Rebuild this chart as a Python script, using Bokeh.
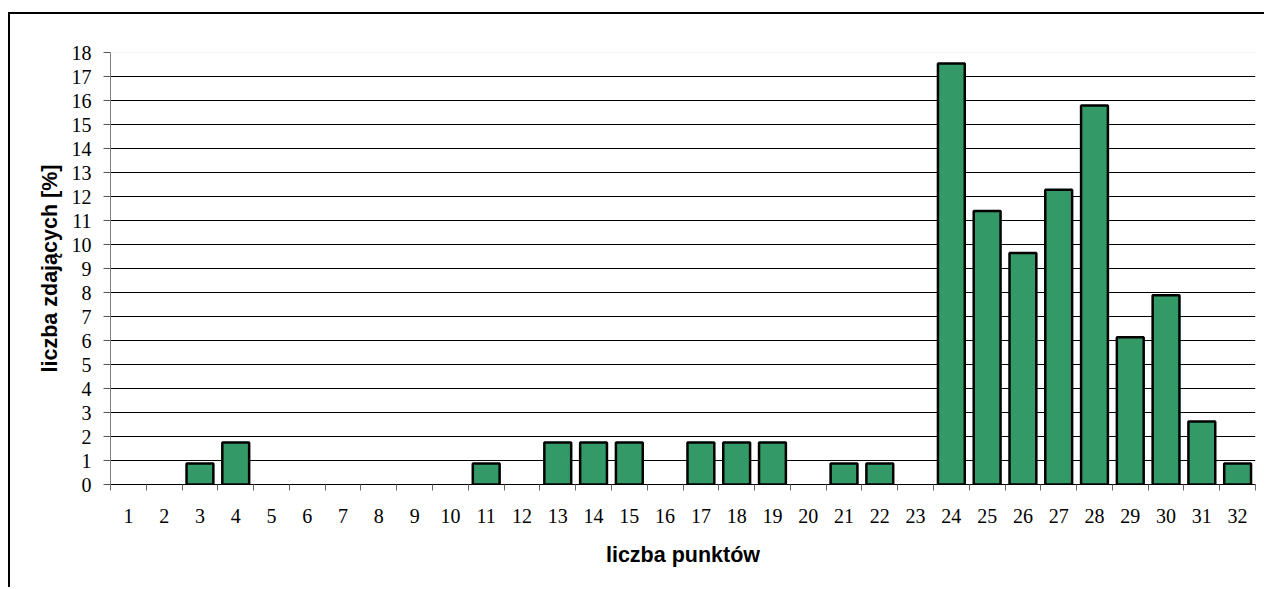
from bokeh.plotting import figure
from bokeh.models import FixedTicker, Span, ColumnDataSource
from bokeh.embed import file_html
from bokeh.resources import INLINE

# data
points = list(range(1, 33))
percent = [0, 0, 0.88, 1.75, 0, 0, 0, 0, 0, 0, 0.88, 0, 1.75, 1.75, 1.75, 0,
           1.75, 1.75, 1.75, 0, 0.88, 0.88, 0, 17.54, 11.40, 9.65, 12.28, 15.79,
           6.14, 7.89, 2.63, 0.88]
y_ticks = list(range(0, 19))
x_label = "liczba punktów"
y_label = "liczba zdających [%]"

# only non-empty bars are drawn (empty categories show nothing)
src = ColumnDataSource(data=dict(
    x=[x for x, v in zip(points, percent) if v > 0],
    top=[v for v in percent if v > 0],
))

p = figure(width=1256, height=575, x_range=(0.5, 32.5), y_range=(0, 18),
           output_backend="svg", toolbar_location=None,
           min_border_left=100, min_border_right=11, min_border_top=38, min_border_bottom=105)
p.styles = {"border-left": "2px solid black", "border-top": "2px solid black",
            "margin-top": "12px", "margin-left": "8px"}
p.outline_line_color = None
p.background_fill_color = "white"
p.border_fill_color = "white"

p.vbar(x="x", top="top", source=src, width=0.75, fill_color="#339966",
       line_color="black", line_width=2.5)

# grid
p.xgrid.grid_line_color = None
p.ygrid.ticker = FixedTicker(ticks=list(range(0, 18)))
p.ygrid.grid_line_color = "black"
p.ygrid.grid_line_width = 1
p.add_layout(Span(location=18, dimension="width", line_color="#eeeeee", line_width=1))

# x axis
xa = p.xaxis[0]
xa.ticker = FixedTicker(ticks=points, minor_ticks=[i + 0.5 for i in range(0, 33)])
xa.major_tick_out = 0
xa.major_tick_in = 0
xa.minor_tick_out = 6
xa.minor_tick_in = 0
xa.minor_tick_line_color = "#666666"
xa.axis_line_color = "black"
xa.major_label_standoff = 18
xa.major_label_text_font = "Liberation Serif"
xa.major_label_text_font_size = "20px"
xa.major_label_text_color = "black"
xa.axis_label = x_label
xa.axis_label_text_font = "Liberation Sans"
xa.axis_label_text_font_style = "bold"
xa.axis_label_text_font_size = "21.5px"
xa.axis_label_text_color = "black"
xa.axis_label_standoff = 17

# y axis
ya = p.yaxis[0]
ya.ticker = FixedTicker(ticks=y_ticks, minor_ticks=[])
ya.major_tick_out = 7
ya.major_tick_in = 0
ya.major_tick_line_color = "#555555"
ya.minor_tick_out = 0
ya.minor_tick_in = 0
ya.axis_line_color = "#808080"
ya.major_label_standoff = 12
ya.major_label_text_font = "Liberation Serif"
ya.major_label_text_font_size = "20px"
ya.major_label_text_color = "black"
ya.axis_label = y_label
ya.axis_label_text_font = "Liberation Sans"
ya.axis_label_text_font_style = "bold"
ya.axis_label_text_font_size = "21.5px"
ya.axis_label_text_color = "black"
ya.axis_label_standoff = 7

open("out.html", "w").write(file_html(p, INLINE))
